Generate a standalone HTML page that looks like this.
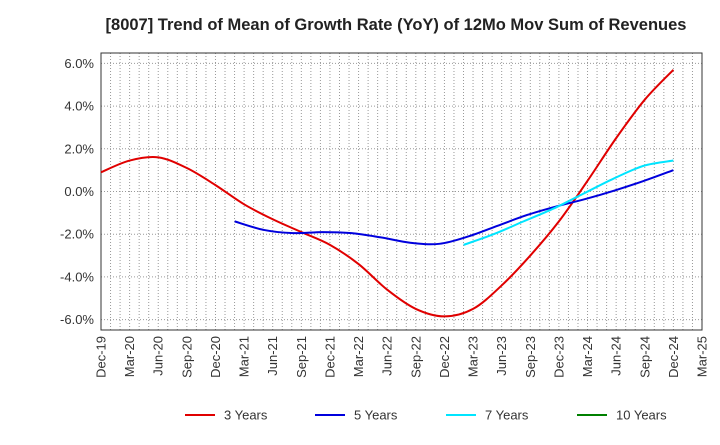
<!DOCTYPE html>
<html><head><meta charset="utf-8"><style>
body{margin:0;background:#fff;font-family:"Liberation Sans",sans-serif}
</style></head><body>
<svg id="c" width="720" height="440" xmlns="http://www.w3.org/2000/svg">
<text x="396" y="30" text-anchor="middle" font-size="16.5" font-weight="bold" fill="#222">[8007]  Trend of Mean of Growth Rate (YoY) of 12Mo Mov Sum of Revenues</text>
<g id="grid"></g><g id="axes"></g><g id="series"></g><g id="legend"></g>
</svg>
<script>
const xLabels=["Dec-19","Mar-20","Jun-20","Sep-20","Dec-20","Mar-21","Jun-21","Sep-21","Dec-21","Mar-22","Jun-22","Sep-22","Dec-22","Mar-23","Jun-23","Sep-23","Dec-23","Mar-24","Jun-24","Sep-24","Dec-24","Mar-25"];
const yTicks=[6,4,2,0,-2,-4,-6];
const s3=[0.9,1.45,1.6,1.1,0.3,-0.6,-1.3,-1.9,-2.5,-3.4,-4.6,-5.5,-5.85,-5.5,-4.4,-3.0,-1.4,0.5,2.5,4.3,5.7];
const s3Start=0;
const s5=[-1.4,-1.8,-1.95,-1.9,-1.95,-2.15,-2.4,-2.45,-2.1,-1.6,-1.1,-0.7,-0.35,0.05,0.5,1.0];
const s5Start=4.67;
const s7=[-2.5,-2.0,-1.4,-0.8,-0.1,0.6,1.2,1.45];
const s7Start=12.67;
const seriesEnd=20;
const L=101,R=702,T=53,B=330;
const X=i=>L+(R-L)*i/21;
const Y=v=>191.5-v*21.35;
const NS="http://www.w3.org/2000/svg";
function mk(t,a,p){const e=document.createElementNS(NS,t);for(const k in a)e.setAttribute(k,a[k]);p.appendChild(e);return e;}
const g=document.getElementById('grid'),ax=document.getElementById('axes'),se=document.getElementById('series'),lg=document.getElementById('legend');
for(let m=1;m<63;m++){const x=L+(R-L)*m/63;const l=mk('line',{x1:x,x2:x,y1:T,y2:B,stroke:'#999','stroke-width':1,'stroke-dasharray':'1,2'},g);

}
yTicks.forEach(v=>{const y=Y(v);const l=mk('line',{x1:L,x2:R,y1:y,y2:y,stroke:'#999','stroke-width':1,'stroke-dasharray':'1,2'},g);


const t=mk('text',{x:L-7,y:y+4.5,'text-anchor':'end','font-size':13,fill:'#333'},ax);t.textContent=v.toFixed(1)+'%';

});
const fr=mk('rect',{x:L,y:T,width:R-L,height:B-T,fill:'none',stroke:'#333','stroke-width':1},ax);


xLabels.forEach((s,i)=>{const x=X(i);const t=mk('text',{transform:`translate(${x+4.5},${B+6}) rotate(-90)`,'text-anchor':'end','font-size':13,fill:'#333'},ax);t.textContent=s;

});
function path(vals,start){const step=(seriesEnd-start)/(vals.length-1);const p=vals.map((v,i)=>[X(start+i*step),Y(v)]);let d=`M${p[0][0]},${p[0][1]}`;
for(let i=0;i<p.length-1;i++){const p0=p[i-1]||p[i],p1=p[i],p2=p[i+1],p3=p[i+2]||p2;
d+=` C${p1[0]+(p2[0]-p0[0])/6},${p1[1]+(p2[1]-p0[1])/6} ${p2[0]-(p3[0]-p1[0])/6},${p2[1]-(p3[1]-p1[1])/6} ${p2[0]},${p2[1]}`;}return d;}
[[s3,s3Start,'#e00000','line-3-years'],[s5,s5Start,'#0000dd','line-5-years'],[s7,s7Start,'#00e5ff','line-7-years']].forEach(([v,s,c,n])=>{
const p=mk('path',{d:path(v,s),fill:'none',stroke:c,'stroke-width':2},se);

});
[['3 Years','#e00000',185],['5 Years','#0000dd',315],['7 Years','#00e5ff',446],['10 Years','#008000',577]].forEach(([t,c,x])=>{
const l=mk('line',{x1:x,x2:x+30,y1:415,y2:415,stroke:c,'stroke-width':2},lg);


const tx=mk('text',{x:x+39,y:419.5,'font-size':13,fill:'#333'},lg);tx.textContent=t;

});
</script>
</body></html>
